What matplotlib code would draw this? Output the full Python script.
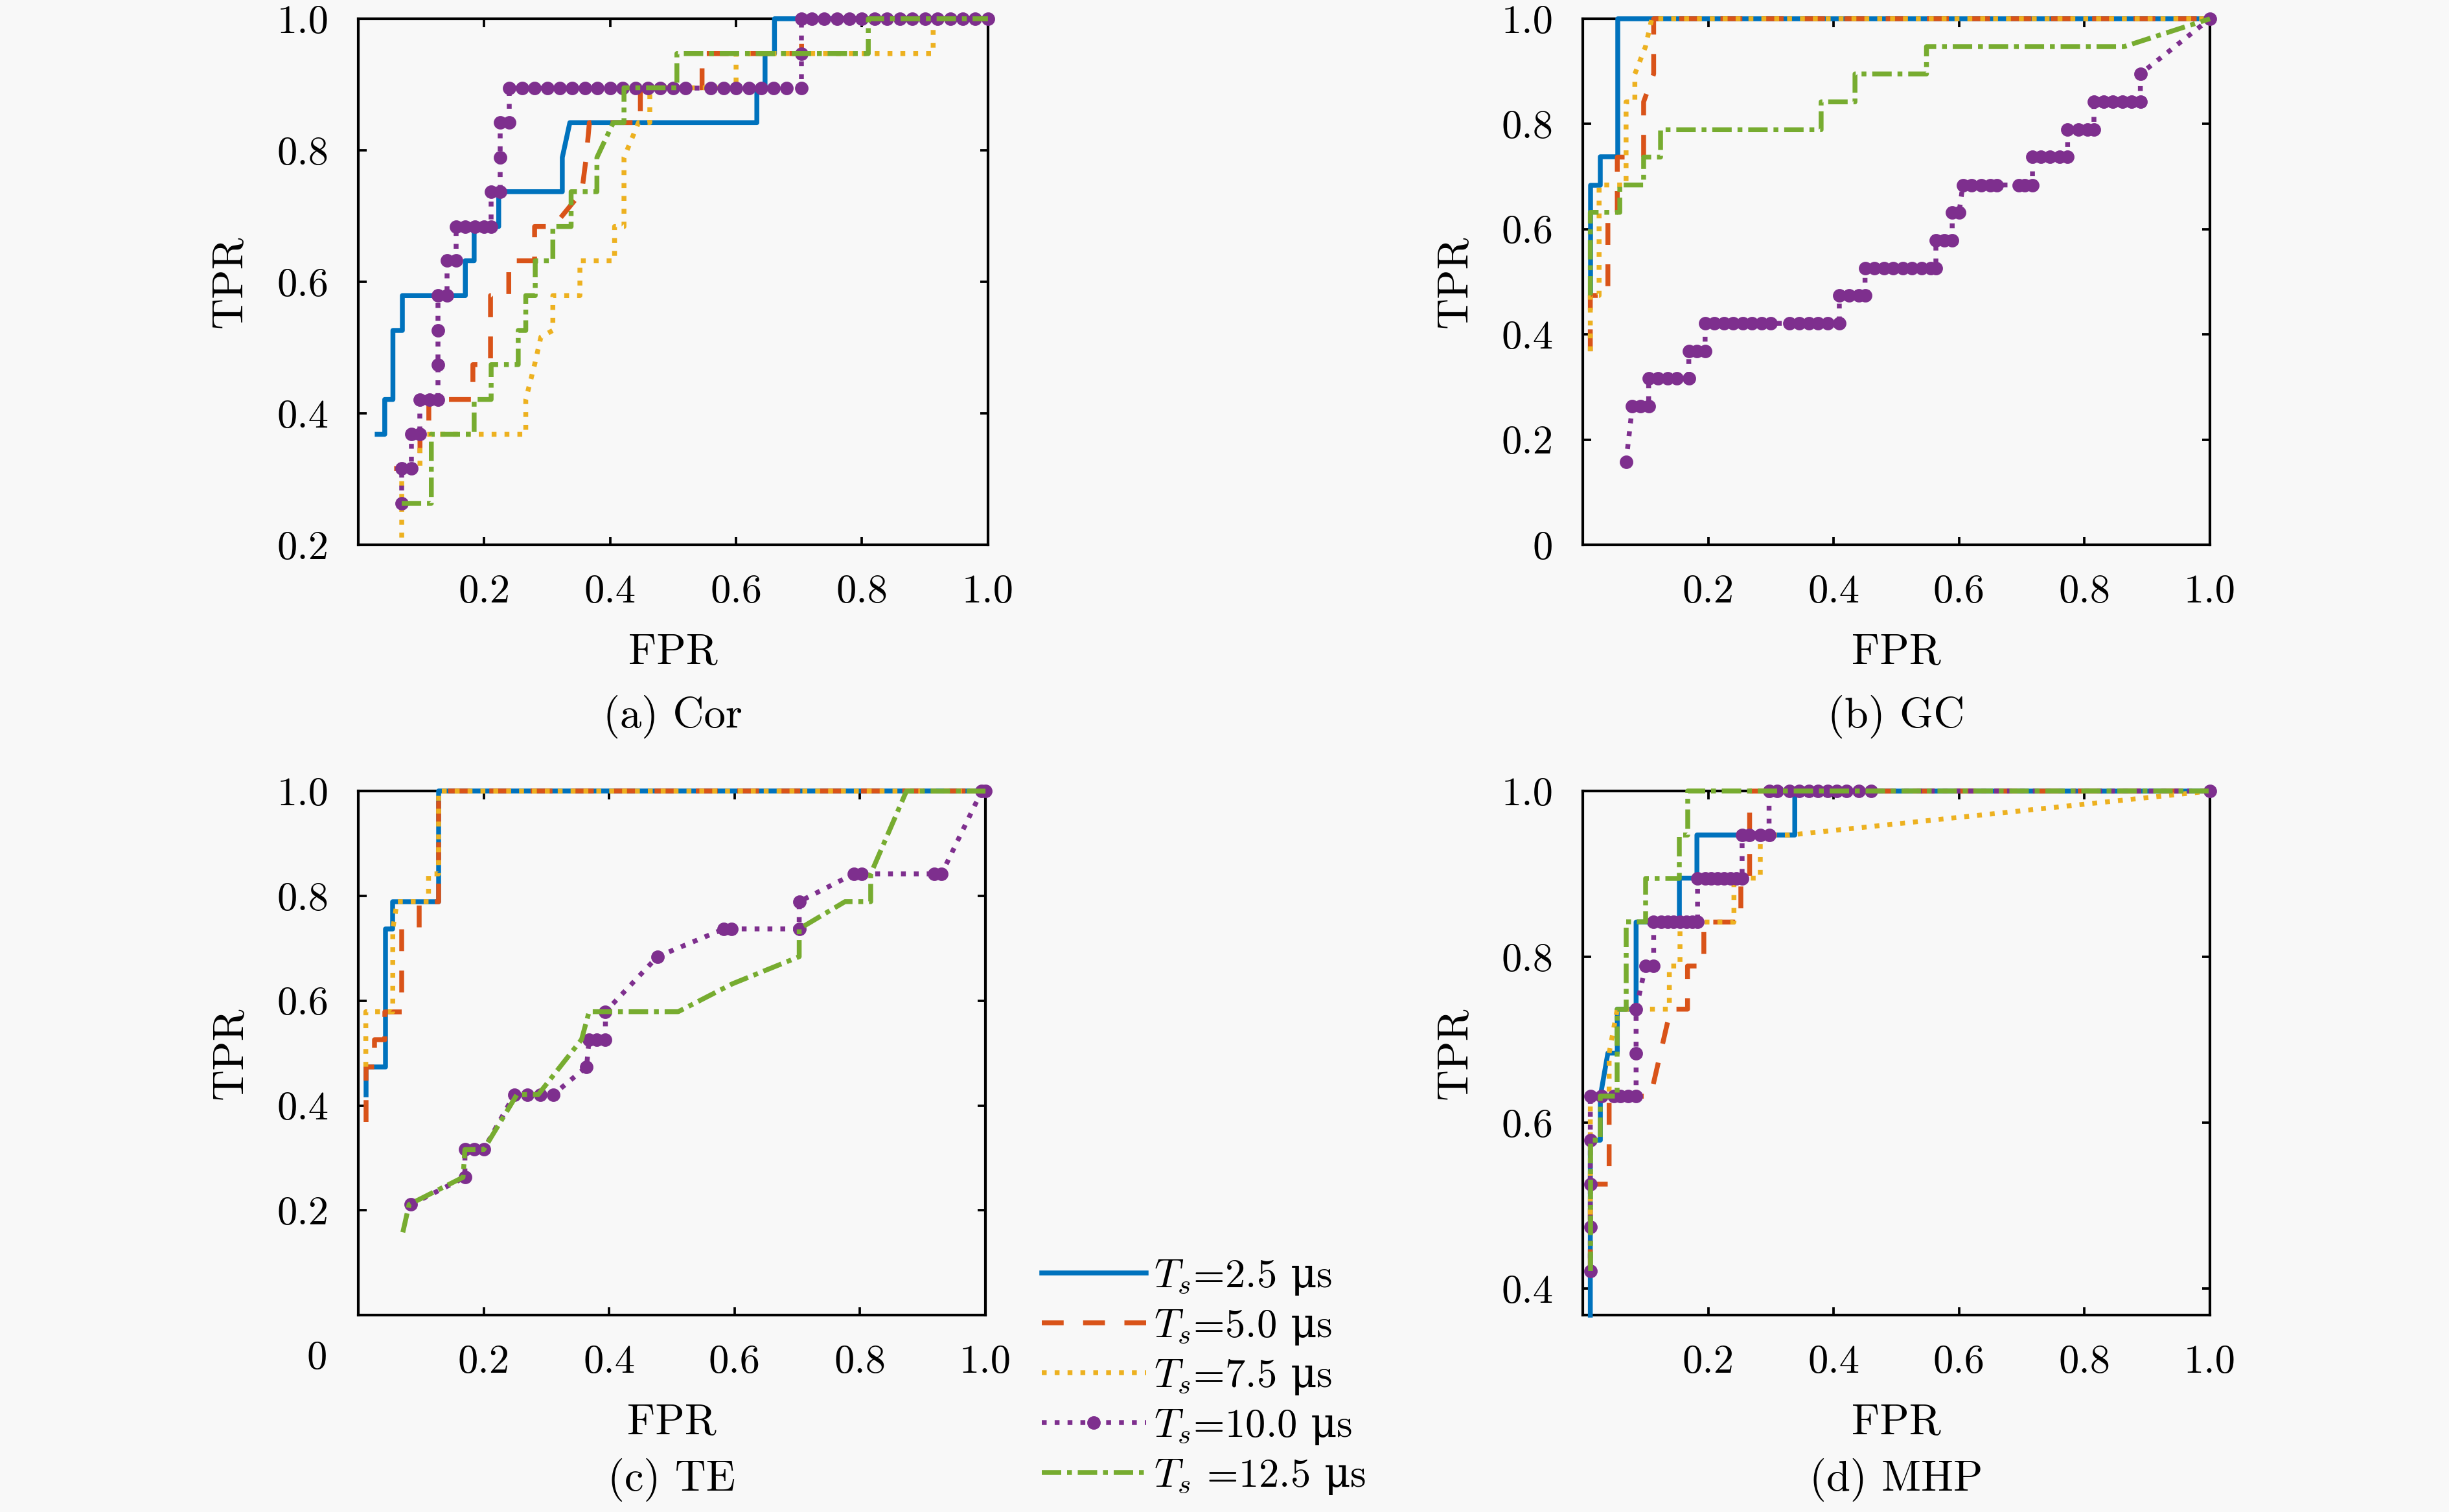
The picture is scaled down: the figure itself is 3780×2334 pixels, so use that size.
import numpy as np
import matplotlib.pyplot as plt
from matplotlib.lines import Line2D

### ROC curves (FPR vs TPR) for four methods at five sampling intervals ###

plt.rcParams['font.family'] = ['cmr10', 'DejaVu Serif']
# italic math from cmmi10, upright greek (the micro sign) from DejaVu Serif
plt.rcParams['mathtext.fontset'] = 'custom'
plt.rcParams['mathtext.it'] = 'cmmi10'
plt.rcParams['mathtext.rm'] = 'DejaVu Serif'
plt.rcParams['axes.formatter.use_mathtext'] = True
plt.rcParams['font.size'] = 15

labels = [r'$T_s$=2.5 $\mathrm{\mu}$s', r'$T_s$=5.0 $\mathrm{\mu}$s', r'$T_s$=7.5 $\mathrm{\mu}$s',
          r'$T_s$=10.0 $\mathrm{\mu}$s', r'$T_s$ =12.5 $\mathrm{\mu}$s']
captions = ['(a) Cor', '(b) GC', '(c) TE', '(d) MHP']

# (a) Cor : (FPR, TPR) points
cor_25 = [(0.03, 0.368), (0.042, 0.368), (0.042, 0.421), (0.055, 0.421), (0.055, 0.526), (0.07, 0.526),
          (0.07, 0.579), (0.17, 0.579), (0.17, 0.632), (0.184, 0.632), (0.184, 0.684), (0.223, 0.684),
          (0.223, 0.737), (0.324, 0.737), (0.324, 0.789), (0.336, 0.842), (0.633, 0.842), (0.633, 0.895),
          (0.646, 0.895), (0.646, 0.947), (0.661, 0.947), (0.661, 1.0), (1.0, 1.0)]
cor_50 = [(0.057, 0.316), (0.098, 0.316), (0.098, 0.368), (0.112, 0.368), (0.112, 0.421), (0.182, 0.421),
          (0.182, 0.474), (0.21, 0.474), (0.21, 0.579), (0.239, 0.579), (0.239, 0.632), (0.28, 0.632),
          (0.28, 0.684), (0.31, 0.684), (0.355, 0.737), (0.362, 0.789), (0.367, 0.842), (0.448, 0.842),
          (0.448, 0.895), (0.546, 0.895), (0.546, 0.947), (0.704, 0.947), (0.704, 1.0), (1.0, 1.0)]
cor_75 = [(0.069, 0.211), (0.069, 0.316), (0.098, 0.316), (0.098, 0.368), (0.266, 0.368), (0.266, 0.421),
          (0.28, 0.474), (0.29, 0.516), (0.309, 0.526), (0.309, 0.579), (0.352, 0.579), (0.352, 0.632),
          (0.407, 0.632), (0.407, 0.684), (0.422, 0.684), (0.422, 0.789), (0.445, 0.842), (0.463, 0.842),
          (0.463, 0.895), (0.60, 0.895), (0.60, 0.947), (0.913, 0.947), (0.913, 1.0), (1.0, 1.0)]
cor_100 = [(0.069, 0.263), (0.069, 0.316), (0.084, 0.316), (0.084, 0.368), (0.098, 0.368), (0.098, 0.421),
           (0.113, 0.421), (0.127, 0.421), (0.127, 0.474), (0.127, 0.526), (0.127, 0.579), (0.141, 0.579),
           (0.141, 0.632), (0.155, 0.632), (0.155, 0.684), (0.17, 0.684), (0.185, 0.684), (0.2, 0.684),
           (0.211, 0.684), (0.211, 0.737), (0.225, 0.737), (0.225, 0.789), (0.225, 0.842), (0.24, 0.842),
           (0.24, 0.895), (0.26, 0.895), (0.28, 0.895), (0.30, 0.895), (0.32, 0.895), (0.34, 0.895),
           (0.36, 0.895), (0.38, 0.895), (0.40, 0.895), (0.42, 0.895), (0.44, 0.895), (0.46, 0.895),
           (0.48, 0.895), (0.50, 0.895), (0.52, 0.895), (0.56, 0.895), (0.58, 0.895), (0.60, 0.895),
           (0.62, 0.895), (0.64, 0.895), (0.66, 0.895), (0.68, 0.895), (0.704, 0.895), (0.704, 0.947),
           (0.704, 1.0), (0.72, 1.0), (0.74, 1.0), (0.76, 1.0), (0.78, 1.0), (0.80, 1.0), (0.82, 1.0),
           (0.84, 1.0), (0.86, 1.0), (0.88, 1.0), (0.90, 1.0), (0.92, 1.0), (0.94, 1.0), (0.96, 1.0),
           (0.98, 1.0), (1.0, 1.0)]
cor_125 = [(0.069, 0.263), (0.116, 0.263), (0.116, 0.368), (0.184, 0.368), (0.184, 0.421), (0.211, 0.421),
           (0.211, 0.474), (0.254, 0.474), (0.254, 0.526), (0.266, 0.526), (0.266, 0.579), (0.281, 0.579),
           (0.281, 0.632), (0.309, 0.632), (0.309, 0.684), (0.338, 0.684), (0.338, 0.737), (0.379, 0.737),
           (0.379, 0.789), (0.405, 0.842), (0.422, 0.842), (0.422, 0.895), (0.506, 0.895), (0.506, 0.947),
           (0.81, 0.947), (0.81, 1.0), (1.0, 1.0)]

# (b) GC
gc_25 = [(0.012, 0.474), (0.012, 0.684), (0.028, 0.684), (0.028, 0.737), (0.056, 0.737), (0.056, 1.0),
         (1.0, 1.0)]
gc_50 = [(0.012, 0.368), (0.012, 0.474), (0.040, 0.474), (0.040, 0.632), (0.055, 0.632), (0.055, 0.737),
         (0.097, 0.737), (0.097, 0.842), (0.113, 0.895), (0.113, 1.0), (1.0, 1.0)]
gc_75 = [(0.012, 0.368), (0.012, 0.474), (0.026, 0.474), (0.026, 0.684), (0.069, 0.684), (0.069, 0.842),
         (0.083, 0.842), (0.083, 0.895), (0.1, 0.947), (0.11, 1.0), (1.0, 1.0)]
gc_100 = [(0.069, 0.158), (0.079, 0.263), (0.092, 0.263), (0.105, 0.263), (0.105, 0.316), (0.12, 0.316),
          (0.135, 0.316), (0.15, 0.316), (0.169, 0.316), (0.169, 0.368), (0.182, 0.368), (0.195, 0.368),
          (0.195, 0.421), (0.21, 0.421), (0.225, 0.421), (0.24, 0.421), (0.255, 0.421), (0.27, 0.421),
          (0.285, 0.421), (0.30, 0.421), (0.33, 0.421), (0.345, 0.421), (0.36, 0.421), (0.375, 0.421),
          (0.39, 0.421), (0.409, 0.421), (0.409, 0.474), (0.425, 0.474), (0.44, 0.474), (0.45, 0.474),
          (0.45, 0.526), (0.465, 0.526), (0.48, 0.526), (0.495, 0.526), (0.51, 0.526), (0.525, 0.526),
          (0.54, 0.526), (0.555, 0.526), (0.563, 0.526), (0.563, 0.579), (0.576, 0.579), (0.589, 0.579),
          (0.589, 0.632), (0.60, 0.632), (0.606, 0.684), (0.62, 0.684), (0.635, 0.684), (0.65, 0.684),
          (0.66, 0.684), (0.695, 0.684), (0.705, 0.684), (0.717, 0.684), (0.717, 0.737), (0.73, 0.737),
          (0.745, 0.737), (0.76, 0.737), (0.773, 0.737), (0.773, 0.789), (0.79, 0.789), (0.805, 0.789),
          (0.815, 0.789), (0.815, 0.842), (0.83, 0.842), (0.845, 0.842), (0.86, 0.842), (0.875, 0.842),
          (0.889, 0.842), (0.889, 0.895), (1.0, 1.0)]
gc_125 = [(0.012, 0.474), (0.012, 0.632), (0.059, 0.632), (0.059, 0.684), (0.097, 0.684), (0.097, 0.737),
          (0.124, 0.737), (0.124, 0.789), (0.38, 0.789), (0.38, 0.842), (0.434, 0.842), (0.434, 0.895),
          (0.548, 0.895), (0.548, 0.947), (0.863, 0.947), (1.0, 1.0)]

# (c) TE
te_25 = [(0.012, 0.421), (0.012, 0.474), (0.043, 0.474), (0.043, 0.737), (0.055, 0.737), (0.055, 0.789),
         (0.128, 0.789), (0.128, 1.0), (1.0, 1.0)]
te_50 = [(0.012, 0.368), (0.012, 0.474), (0.026, 0.474), (0.026, 0.526), (0.042, 0.526), (0.042, 0.579),
         (0.069, 0.579), (0.069, 0.737), (0.097, 0.737), (0.097, 0.789), (0.128, 0.789), (0.128, 1.0),
         (1.0, 1.0)]
te_75 = [(0.012, 0.474), (0.012, 0.579), (0.055, 0.579), (0.055, 0.737), (0.062, 0.789), (0.112, 0.789),
         (0.112, 0.842), (0.128, 0.842), (0.128, 1.0), (1.0, 1.0)]
te_100 = [(0.084, 0.211), (0.17, 0.263), (0.17, 0.316), (0.185, 0.316), (0.2, 0.316), (0.249, 0.421),
          (0.27, 0.421), (0.29, 0.421), (0.311, 0.421), (0.364, 0.474), (0.368, 0.526), (0.38, 0.526),
          (0.394, 0.526), (0.394, 0.579), (0.477, 0.684), (0.583, 0.737), (0.595, 0.737), (0.703, 0.737),
          (0.703, 0.789), (0.79, 0.842), (0.803, 0.842), (0.918, 0.842), (0.93, 0.842), (0.994, 1.0),
          (1.0, 1.0)]
te_125 = [(0.071, 0.158), (0.081, 0.211), (0.167, 0.263), (0.17, 0.316), (0.2, 0.316), (0.253, 0.421),
          (0.287, 0.421), (0.356, 0.526), (0.368, 0.579), (0.51, 0.579), (0.596, 0.632), (0.703, 0.684),
          (0.703, 0.737), (0.776, 0.789), (0.817, 0.789), (0.817, 0.842), (0.874, 1.0), (1.0, 1.0)]

# (d) MHP
mhp_25 = [(0.012, 0.368), (0.012, 0.579), (0.028, 0.579), (0.028, 0.632), (0.040, 0.684), (0.055, 0.684),
          (0.055, 0.737), (0.085, 0.737), (0.085, 0.842), (0.154, 0.842), (0.154, 0.895), (0.182, 0.895),
          (0.182, 0.947), (0.338, 0.947), (0.338, 1.0), (1.0, 1.0)]
mhp_50 = [(0.012, 0.421), (0.012, 0.526), (0.042, 0.526), (0.042, 0.632), (0.108, 0.632), (0.14, 0.737),
          (0.167, 0.737), (0.167, 0.789), (0.193, 0.789), (0.193, 0.842), (0.252, 0.842), (0.252, 0.895),
          (0.266, 0.895), (0.266, 1.0), (1.0, 1.0)]
mhp_75 = [(0.012, 0.474), (0.012, 0.632), (0.042, 0.632), (0.042, 0.684), (0.055, 0.737), (0.138, 0.737),
          (0.138, 0.789), (0.155, 0.789), (0.155, 0.842), (0.241, 0.842), (0.241, 0.895), (0.283, 0.895),
          (0.283, 0.947), (0.33, 0.947), (1.0, 1.0)]
mhp_100 = [(0.012, 0.421), (0.012, 0.474), (0.012, 0.526), (0.012, 0.579), (0.012, 0.632), (0.03, 0.632),
           (0.05, 0.632), (0.06, 0.632), (0.072, 0.632), (0.085, 0.632), (0.085, 0.684), (0.085, 0.737),
           (0.100, 0.789), (0.113, 0.789), (0.113, 0.842), (0.125, 0.842), (0.135, 0.842), (0.145, 0.842),
           (0.155, 0.842), (0.165, 0.842), (0.175, 0.842), (0.183, 0.842), (0.183, 0.895), (0.195, 0.895),
           (0.205, 0.895), (0.215, 0.895), (0.225, 0.895), (0.235, 0.895), (0.245, 0.895), (0.254, 0.895),
           (0.254, 0.947), (0.265, 0.947), (0.283, 0.947), (0.297, 0.947), (0.297, 1.0), (0.31, 1.0),
           (0.33, 1.0), (0.345, 1.0), (0.36, 1.0), (0.375, 1.0), (0.39, 1.0), (0.405, 1.0), (0.42, 1.0),
           (0.44, 1.0), (0.46, 1.0), (1.0, 1.0)]
mhp_125 = [(0.012, 0.421), (0.012, 0.579), (0.028, 0.579), (0.028, 0.632), (0.055, 0.632), (0.055, 0.737),
           (0.069, 0.737), (0.069, 0.842), (0.100, 0.842), (0.100, 0.895), (0.154, 0.895), (0.154, 0.947),
           (0.167, 0.947), (0.167, 1.0), (1.0, 1.0)]

cor_series = [cor_25, cor_50, cor_75, cor_100, cor_125]
gc_series = [gc_25, gc_50, gc_75, gc_100, gc_125]
te_series = [te_25, te_50, te_75, te_100, te_125]
mhp_series = [mhp_25, mhp_50, mhp_75, mhp_100, mhp_125]

x_ticks = [0.2, 0.4, 0.6, 0.8, 1.0]
y_ticks_a = [0.2, 0.4, 0.6, 0.8, 1.0]
y_ticks_b = [0, 0.2, 0.4, 0.6, 0.8, 1.0]
y_ticks_c = [0.2, 0.4, 0.6, 0.8, 1.0]
y_ticks_d = [0.4, 0.6, 0.8, 1.0]

# MATLAB default colour order
colors = ['#0072BD', '#D95319', '#EDB120', '#7E2F8E', '#77AC30']
lw = 1.8
styles = [dict(linestyle='-'),
          dict(linestyle=(0, (4.5, 4))),
          dict(linestyle=':'),
          dict(linestyle=':', marker='o', markersize=4),
          dict(linestyle=(0, (4, 1.2, 1, 1.2)))]

bg = '#f8f8f8'
fig = plt.figure(figsize=(12.6, 7.78), dpi=300, facecolor=bg)

# axes placement (left, bottom, width, height) in figure fraction
positions = [(0.1463, 0.6397, 0.2571, 0.3479),
             (0.6463, 0.6397, 0.2561, 0.3479),
             (0.1463, 0.1302, 0.2561, 0.3466),
             (0.6463, 0.1302, 0.2561, 0.3466)]
ylims = [(0.2, 1.0), (0.0, 1.0), (0.0, 1.0), (0.368, 1.0)]
yticks_all = [y_ticks_a, y_ticks_b, y_ticks_c, y_ticks_d]
all_series = [cor_series, gc_series, te_series, mhp_series]
caption_y = [-0.327, -0.327, -0.314, -0.314]

for k in range(4):
    ax = fig.add_axes(positions[k])
    ax.set_facecolor(bg)
    for i, pts in enumerate(all_series[k]):
        pts = np.array(pts)
        ax.plot(pts[:, 0], pts[:, 1], color=colors[i], lw=lw, clip_on=False, zorder=3,
                markerfacecolor=colors[i], markeredgecolor=colors[i], **styles[i])
    ax.set_xlim(0, 1)
    ax.set_ylim(*ylims[k])
    ax.set_xticks(x_ticks)
    ax.set_xticklabels(['%.1f' % v for v in x_ticks])
    ax.set_yticks(yticks_all[k])
    ax.set_yticklabels(['0' if v == 0 else '%.1f' % v for v in yticks_all[k]])
    ax.tick_params(direction='in', length=3, width=0.9, pad=11, top=True, right=True, labelsize=15)
    for sp in ax.spines.values():
        sp.set_linewidth(1.0)
    ax.set_xlabel('FPR', fontsize=16, va='center')
    ax.xaxis.set_label_coords(0.5, -0.205)
    ax.set_ylabel('TPR', fontsize=16, va='center')
    ax.yaxis.set_label_coords(-0.204, 0.5)
    ax.text(0.5, caption_y[k], captions[k], transform=ax.transAxes, ha='center', va='center', fontsize=16)

# lone origin label next to panel (c)
fig.text(0.1294, 0.1015, '0', ha='center', va='center', fontsize=15)

handles = [Line2D([], [], color=colors[i], lw=lw, markerfacecolor=colors[i],
                  markeredgecolor=colors[i], **styles[i]) for i in range(5)]
fig.legend(handles, labels, loc='center left', bbox_to_anchor=(0.4254, 0.0891), frameon=False,
           fontsize=15, handlelength=2.57, handletextpad=0.2, labelspacing=0.27, borderpad=0,
           borderaxespad=0)

fig.savefig('out.png', dpi=300, facecolor=bg)
